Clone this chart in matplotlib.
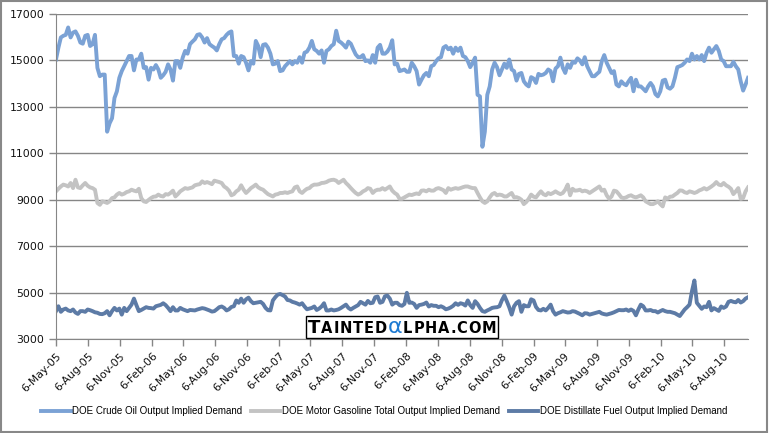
import pandas as pd
import matplotlib.pyplot as plt
from matplotlib.patches import Rectangle
from matplotlib.offsetbox import TextArea, HPacker, AnchoredOffsetbox

# weekly implied demand, starting 6-May-05
crude = [15040, 15550, 15990, 16060, 16100, 16420, 15990, 16200, 16250, 16060,
         15770, 15720, 16060, 16100, 15620, 15700, 16100, 14680, 14320, 14390,
         14390, 11930, 12290, 12510, 13380, 13670, 14250, 14540, 14750, 14970,
         15190, 15190, 14570, 15040, 15040, 15290, 14680, 14710, 14170, 14680,
         14610, 14800, 14610, 14250, 14360, 14510, 14830, 14610, 14130, 14970,
         14970, 14680, 15120, 15410, 15290, 15700, 15810, 15910, 16100, 16130,
         15990, 15770, 15960, 15700, 15620, 15550, 15430, 15700, 15910, 15960,
         16100, 16200, 16250, 15190, 15190, 14860, 15190, 15140, 14900, 14570,
         14970, 14860, 15840, 15620, 15140, 15670, 15700, 15550, 15290, 14830,
         14860, 14970, 14540, 14570, 14750, 14860, 14970, 14830, 14970, 14900,
         15140, 14900, 15330, 15380, 15550, 15840, 15480, 15410, 15290, 15430,
         14900, 15410, 15480, 15620, 15700, 16280, 15840, 15770, 15670, 15550,
         15810, 15720, 15480, 15260, 15140, 15140, 15230, 14970, 15000, 14900,
         15230, 14900, 15550, 15670, 15290, 15290, 15380, 15550, 15870, 14830,
         14860, 14540, 14570, 14610, 14510, 14510, 14900, 14750, 14540, 13960,
         14170, 14360, 14460, 14320, 14750, 14800, 14970, 15090, 15140, 15550,
         15620, 15480, 15550, 15290, 15550, 15410, 15550, 15190, 15140, 14970,
         14710, 14900, 15120, 13520, 13450, 11280, 11930, 13520, 13880, 14610,
         14900, 14710, 14360, 14610, 14860, 14680, 15040, 14610, 14540, 14130,
         14420, 14460, 14100, 13960, 13880, 14280, 14220, 14030, 14420, 14360,
         14390, 14460, 14610, 14540, 14100, 14650, 14750, 15120, 14680, 14460,
         14830, 14680, 14940, 14900, 15090, 15000, 14830, 15140, 14750, 14540,
         14320, 14320, 14420, 14510, 14970, 15230, 14900, 14680, 14460, 14540,
         13960, 13880, 14100, 13990, 13930, 14100, 14250, 13670, 14170, 13880,
         13880, 13780, 13670, 13880, 14030, 13880, 13550, 13450, 13670, 14130,
         14170, 13840, 13780, 13880, 14250, 14710, 14750, 14800, 14900, 15040,
         14970, 15290, 15040, 15190, 15040, 15230, 14970, 15330, 15550, 15330,
         15480, 15620, 15410, 15040, 14970, 14750, 14750, 14750, 14940, 14750,
         14610, 14100, 13700, 13960, 14250]

gasoline = [9360, 9470, 9570, 9650, 9620, 9570, 9720, 9500, 9860, 9530,
            9500, 9620, 9720, 9600, 9530, 9500, 9430, 8860, 8780, 8930,
            8900, 8860, 8930, 9070, 9100, 9220, 9290, 9220, 9260, 9330,
            9360, 9430, 9390, 9360, 9470, 9070, 8930, 8900, 8990, 9070,
            9130, 9140, 9220, 9160, 9140, 9240, 9220, 9290, 9390, 9140,
            9240, 9360, 9430, 9500, 9470, 9500, 9530, 9620, 9650, 9670,
            9790, 9720, 9760, 9720, 9670, 9820, 9790, 9760, 9720, 9570,
            9500, 9390, 9190, 9240, 9360, 9430, 9620, 9430, 9290, 9390,
            9500, 9570, 9650, 9530, 9470, 9430, 9330, 9240, 9190, 9140,
            9220, 9240, 9290, 9290, 9320, 9290, 9330, 9360, 9530, 9570,
            9360, 9290, 9390, 9470, 9500, 9600, 9650, 9650, 9670, 9720,
            9730, 9760, 9820, 9850, 9860, 9820, 9720, 9790, 9860, 9720,
            9620, 9500, 9390, 9290, 9220, 9270, 9360, 9410, 9500, 9470,
            9290, 9390, 9430, 9430, 9500, 9430, 9500, 9570, 9390, 9290,
            9220, 9040, 9040, 9100, 9160, 9220, 9200, 9240, 9270, 9240,
            9390, 9400, 9360, 9430, 9390, 9390, 9470, 9500, 9460, 9410,
            9290, 9500, 9430, 9470, 9500, 9470, 9500, 9540, 9570, 9570,
            9530, 9500, 9500, 9290, 9100, 8930, 8860, 8930, 9100, 9240,
            9290, 9190, 9220, 9200, 9140, 9140, 9220, 9290, 9100, 9110,
            9070, 9000, 8810, 8900, 9040, 9220, 9130, 9100, 9240, 9360,
            9240, 9190, 9290, 9240, 9290, 9360, 9290, 9240, 9290, 9430,
            9650, 9190, 9470, 9390, 9400, 9430, 9360, 9390, 9360, 9290,
            9360, 9430, 9500, 9570, 9390, 9430, 9190, 9040, 9140, 9390,
            9360, 9240, 9100, 9070, 9100, 9160, 9190, 9130, 9100, 9140,
            9190, 9100, 8930, 8870, 8810, 8810, 8860, 8930, 8810, 8710,
            9100, 9040, 9130, 9140, 9220, 9290, 9400, 9390, 9320, 9290,
            9360, 9330, 9290, 9330, 9400, 9440, 9500, 9440, 9500, 9570,
            9650, 9760, 9650, 9620, 9720, 9620, 9560, 9470, 9240, 9360,
            9500, 9040, 9070, 9360, 9530]

distillate = [4200, 4410, 4170, 4270, 4310, 4230, 4200, 4270, 4140, 4080,
              4200, 4200, 4170, 4270, 4240, 4200, 4150, 4130, 4080, 4070,
              4110, 4200, 4020, 4200, 4340, 4230, 4310, 4050, 4340, 4200,
              4340, 4480, 4740, 4460, 4200, 4250, 4310, 4370, 4340, 4330,
              4310, 4410, 4440, 4470, 4540, 4460, 4340, 4200, 4370, 4230,
              4230, 4340, 4280, 4240, 4200, 4250, 4240, 4230, 4270, 4300,
              4330, 4310, 4270, 4230, 4180, 4200, 4280, 4370, 4400, 4340,
              4230, 4280, 4380, 4410, 4660, 4560, 4740, 4560, 4710, 4780,
              4630, 4540, 4560, 4580, 4600, 4510, 4340, 4240, 4230, 4660,
              4800, 4910, 4940, 4890, 4830, 4680, 4660, 4600, 4570, 4530,
              4480, 4540, 4400, 4280, 4310, 4340, 4400, 4250, 4310, 4400,
              4540, 4230, 4230, 4270, 4230, 4250, 4280, 4340, 4410, 4480,
              4340, 4270, 4340, 4400, 4460, 4600, 4540, 4480, 4640, 4540,
              4560, 4800, 4830, 4560, 4600, 4840, 4870, 4740, 4480, 4560,
              4560, 4460, 4430, 4510, 4990, 4560, 4570, 4510, 4340, 4460,
              4480, 4510, 4570, 4400, 4460, 4430, 4430, 4370, 4410, 4360,
              4280, 4310, 4360, 4430, 4540, 4470, 4540, 4510, 4440, 4660,
              4460, 4340, 4630, 4510, 4340, 4200, 4170, 4230, 4280, 4340,
              4360, 4370, 4410, 4670, 4870, 4630, 4370, 4050, 4410, 4560,
              4630, 4170, 4460, 4410, 4410, 4710, 4660, 4380, 4250, 4230,
              4300, 4230, 4340, 4480, 4200, 4050, 4110, 4150, 4200, 4170,
              4140, 4150, 4200, 4180, 4130, 4080, 4020, 4110, 4100, 4050,
              4080, 4110, 4140, 4170, 4100, 4070, 4050, 4080, 4110, 4150,
              4200, 4250, 4240, 4240, 4270, 4210, 4270, 4210, 4020, 4270,
              4480, 4410, 4230, 4230, 4250, 4200, 4200, 4140, 4200, 4250,
              4200, 4170, 4170, 4140, 4110, 4050, 3990, 4130, 4270, 4370,
              4480, 5060, 5520, 4560, 4430, 4300, 4400, 4370, 4600, 4230,
              4330, 4270, 4210, 4400, 4340, 4400, 4600, 4640, 4600, 4580,
              4680, 4570, 4630, 4740, 4800]

labels = ['DOE Crude Oil Output Implied Demand',
          'DOE Motor Gasoline Total Output Implied Demand',
          'DOE Distillate Fuel Output Implied Demand']
colors = ['#7ba2d5', '#c3c3c3', '#5d7ba6']

dates = pd.date_range('2005-05-06', periods=len(crude), freq='7D')
tick_dates = pd.date_range('2005-05-01', '2010-08-01', freq='3MS') + pd.Timedelta(days=5)

fig = plt.figure(figsize=(7.69, 4.33), dpi=100)
ax = fig.add_axes([0.0728, 0.2171, 0.8999, 0.7506])

for vals, lab, col in zip([crude, gasoline, distillate], labels, colors):
    ax.plot(dates, vals, color=col, lw=2.8, label=lab, solid_joinstyle='round')

ax.set_ylim(3000, 17000)
ax.set_yticks(range(3000, 17001, 2000))
ax.set_xlim(dates[0], dates[-1])
ax.set_xticks(tick_dates)
ax.set_xticklabels([f"{d.day}-{d.strftime('%b-%y')}" for d in tick_dates],
                   rotation=45, ha='right', rotation_mode='anchor')
ax.grid(axis='y', color='#868686', lw=1)
ax.set_axisbelow(True)
for s in ['top', 'right']:
    ax.spines[s].set_visible(False)
for s in ['left', 'bottom']:
    ax.spines[s].set_color('#868686')
ax.tick_params(axis='both', colors='#868686', labelcolor='#111111', labelsize=7.8,
               length=5, width=1)

# watermark, one box per letter to get the wide spacing
wm_letters = [('T', 13, 'black')] + [(c, 10.5, 'black') for c in 'AINTED'] + \
             [('\u03b1', 16, '#1e7ad2')] + [(c, 10.5, 'black') for c in 'LPHA.COM']
parts = [TextArea(c, textprops=dict(size=s, color=col, weight='bold' if c != '\u03b1' else 'normal'))
         for c, s, col in wm_letters]
wm = HPacker(children=parts, align='baseline', pad=0, sep=0.6)
box = AnchoredOffsetbox(loc='lower center', child=wm, pad=0.1, frameon=True,
                        bbox_to_anchor=(0.5, 0.0), bbox_transform=ax.transAxes,
                        borderpad=0.05)
box.patch.set_edgecolor('black')
box.patch.set_linewidth(1)
box.patch.set_boxstyle('square', pad=0)
ax.add_artist(box)

fig.legend(loc='center', bbox_to_anchor=(0.5, 0.051), ncol=3, frameon=False,
           prop=dict(family=['Liberation Sans', 'DejaVu Sans'], size=7),
           handlelength=3, handletextpad=0.2, columnspacing=0.9)

fig.patches.append(Rectangle((0.001, 0.002), 0.997, 0.995, transform=fig.transFigure,
                             fill=False, edgecolor='#888888', lw=1.5))

fig.savefig('out.png', dpi=100)
